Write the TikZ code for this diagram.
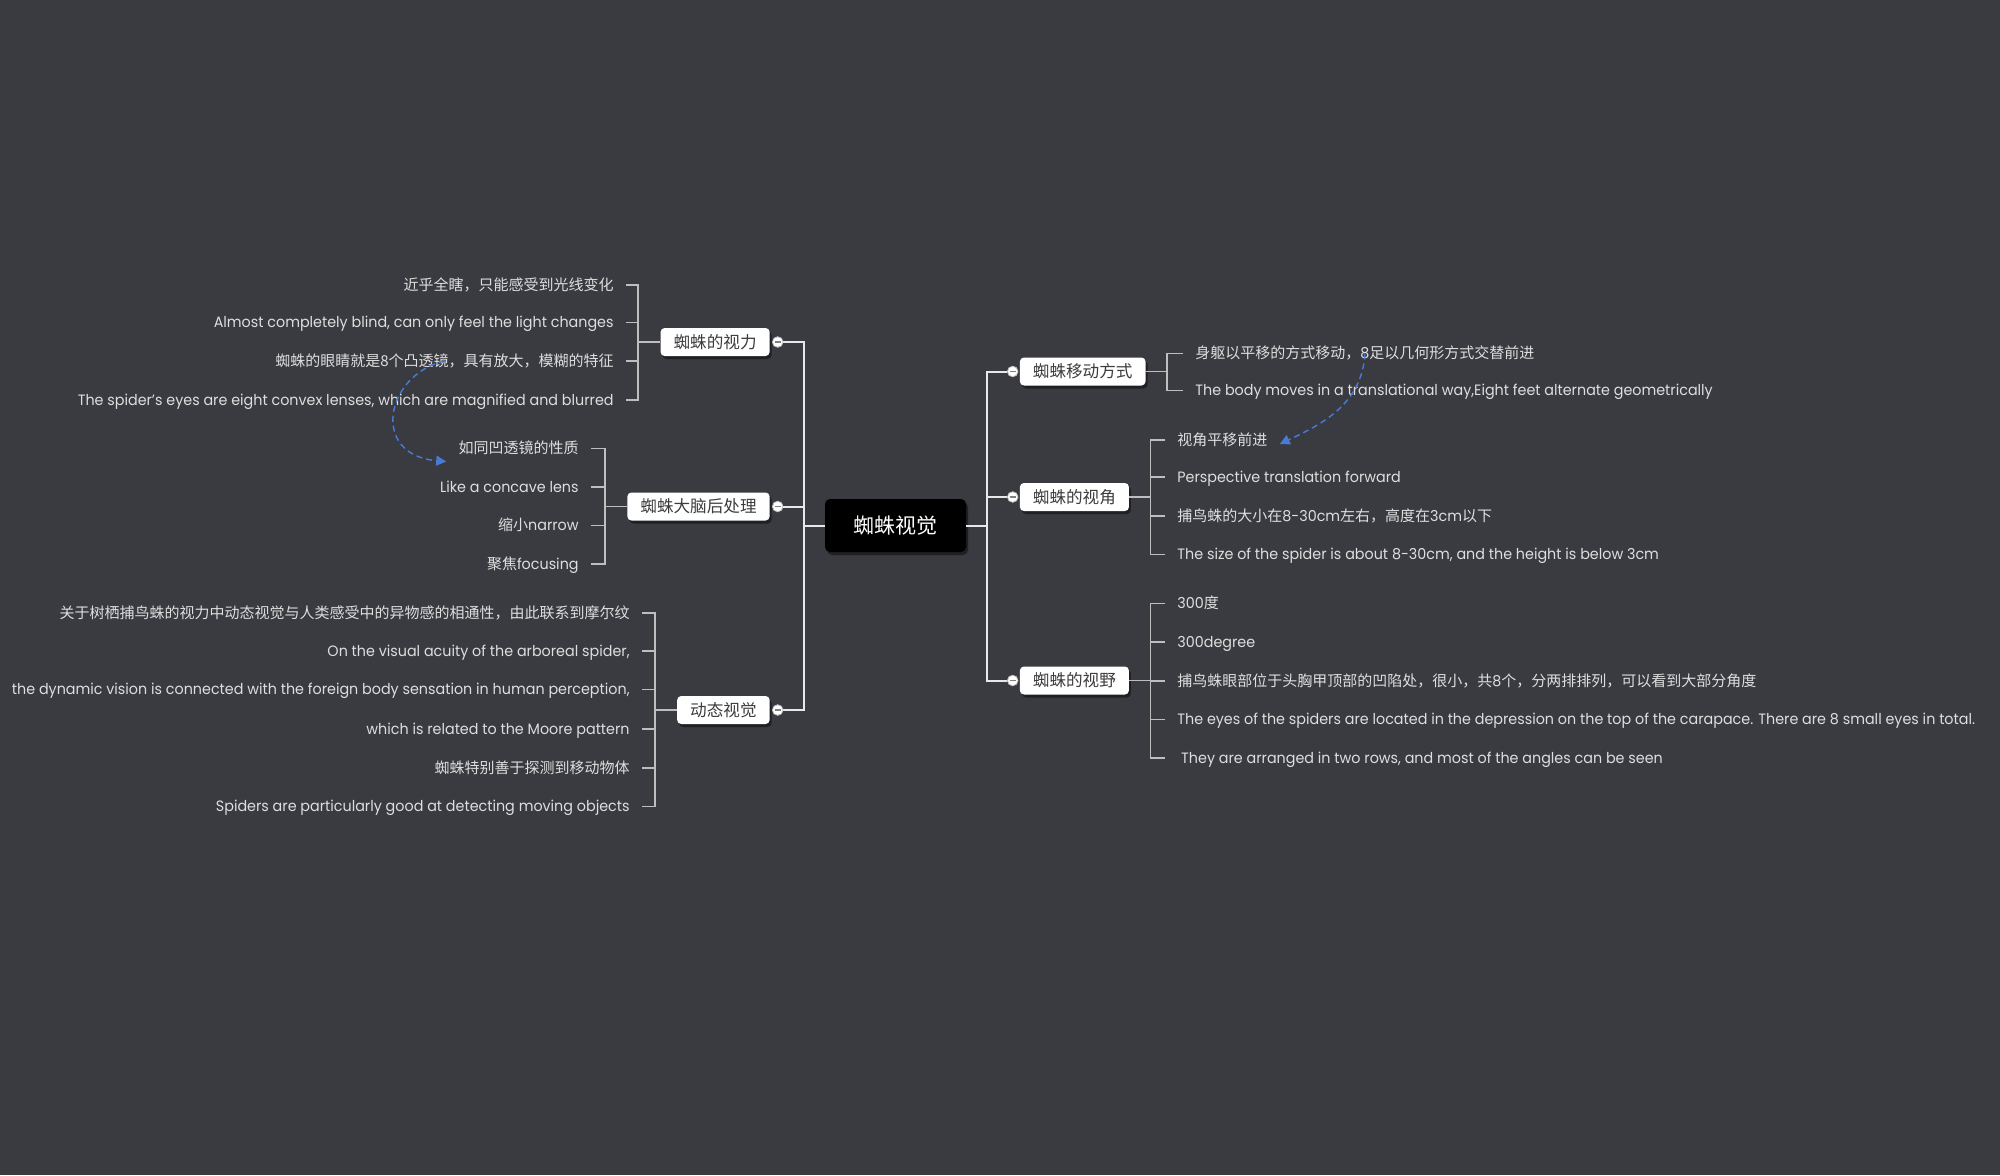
\documentclass[tikz,border=0pt]{standalone}
\usepackage{fontspec}
\setmainfont[FakeStretch=0.955]{Poppins}
\newfontfamily\cjk{Noto Sans CJK SC}
\usetikzlibrary{shadows,arrows.meta,calc}
\definecolor{bgc}{RGB}{58,59,65}
\definecolor{txt}{RGB}{222,222,222}
\definecolor{lnc}{RGB}{232,232,232}
\definecolor{brk}{RGB}{190,190,190}
\definecolor{arrc}{RGB}{72,122,214}
\definecolor{dark}{RGB}{60,60,62}
\tikzset{
  leafbase/.style={text=txt, font=\fontsize{7.5}{9}\selectfont, inner xsep=6pt, inner ysep=1pt, text height=6pt, text depth=0.8pt},
  leafL/.style={leafbase, anchor=east},
  leafR/.style={leafbase, anchor=west},
  branch/.style={fill=white, rounded corners=2pt, text=dark, font=\cjk\fontsize{8.3}{10}\selectfont, inner xsep=6.5pt, inner ysep=0pt, minimum height=14pt,
    drop shadow={shadow xshift=1pt, shadow yshift=-1.5pt, opacity=0.45, fill=black}},
  rootbox/.style={fill=black, rounded corners=2.5pt, text=white, font=\cjk\fontsize{10.5}{12}\selectfont, minimum width=70.5pt, minimum height=26.5pt, inner sep=0pt,
    drop shadow={shadow xshift=1pt, shadow yshift=-1.5pt, opacity=0.45, fill=black}},
  collapse/.style={circle, fill=white, draw=brk, line width=0.4pt, minimum size=5.3pt, inner sep=0pt,
    path picture={\draw[gray, line width=0.6pt] ([xshift=-1.6pt]path picture bounding box.center) -- ([xshift=1.6pt]path picture bounding box.center);}},
  trunk/.style={draw=lnc, line width=1pt},
  bracket/.style={draw=brk, line width=0.8pt},
  darr/.style={draw=arrc, line width=0.7pt, dash pattern=on 3pt off 2pt, -{Triangle[length=5pt,width=5pt]}},
}
\begin{document}
\begin{tikzpicture}[x=0.5pt,y=-0.5pt]
\useasboundingbox (0,0) rectangle (2000,1175);
\fill[bgc] (0,0) rectangle (2000,1175);
\clip (0,0) rectangle (2000,1175);

% root
\node[rootbox] (root) at (895.5,525.5) {蜘蛛视觉};

% left branches
\node[branch, anchor=east] (b1) at (770,342) {蜘蛛的视力};
\node[branch, anchor=east] (b2) at (770,506.5) {蜘蛛大脑后处理};
\node[branch, anchor=east] (b3) at (770,710) {动态视觉};
\node[collapse] (cL1) at (777.7,342) {};
\node[collapse] (cL2) at (777.7,506.5) {};
\node[collapse] (cL3) at (777.7,710) {};

% right branches
\node[branch, anchor=west] (b4) at (1019.5,371.5) {蜘蛛移动方式};
\node[branch, anchor=west] (b5) at (1019.5,497) {蜘蛛的视角};
\node[branch, anchor=west] (b6) at (1019.5,680.5) {蜘蛛的视野};
\node[collapse] (cR1) at (1012.7,371.5) {};
\node[collapse] (cR2) at (1012.7,497) {};
\node[collapse] (cR3) at (1012.7,680.5) {};

% trunk connectors
\foreach \c in {cR1,cR2,cR3} \draw[trunk] (root.east) -- ++(21,0) |- (\c.west);
\foreach \c in {cL1,cL2,cL3} \draw[trunk] (root.west) -- ++(-21,0) |- (\c.east);

% leaves of b1
\node[leafL] (l11) at (626,285) {\cjk 近乎全瞎，只能感受到光线变化};
\node[leafL] (l12) at (626,322.5) {Almost completely blind, can only feel the light changes};
\node[leafL] (l13) at (626,361) {\cjk 蜘蛛的眼睛就是8个凸透镜，具有放大，模糊的特征};
\node[leafL] (l14) at (626,400) {The spider's eyes are eight convex lenses, which are magnified and blurred};
% leaves of b2
\node[leafL] (l21) at (591,448.5) {\cjk 如同凹透镜的性质};
\node[leafL] (l22) at (591,487) {Like a concave lens};
\node[leafL] (l23) at (591,525.5) {{\cjk 缩小}narrow};
\node[leafL] (l24) at (591,564) {{\cjk 聚焦}focusing};
% leaves of b3
\node[leafL] (l31) at (642,613) {\cjk 关于树栖捕鸟蛛的视力中动态视觉与人类感受中的异物感的相通性，由此联系到摩尔纹};
\node[leafL] (l32) at (642,651) {On the visual acuity of the arboreal spider,\ };
\node[leafL] (l33) at (642,689.5) {the dynamic vision is connected with the foreign body sensation in human perception,\ };
\node[leafL] (l34) at (642,729) {which is related to the Moore pattern};
\node[leafL] (l35) at (642,768) {\cjk 蜘蛛特别善于探测到移动物体};
\node[leafL] (l36) at (642,806.5) {Spiders are particularly good at detecting moving objects};
% leaves of b4
\node[leafR] (l41) at (1183,353.5) {{\cjk 身躯以平移的方式移动，}8{\cjk 足以几何形方式交替前进}};
\node[leafR] (l42) at (1183,390.5) {The body moves in a translational way,Eight feet alternate geometrically};
% leaves of b5
\node[leafR] (l51) at (1165,440) {\cjk 视角平移前进};
\node[leafR] (l52) at (1165,477) {Perspective translation forward};
\node[leafR] (l53) at (1165,516) {{\cjk 捕鸟蛛的大小在}8-30cm{\cjk 左右，高度在}3cm{\cjk 以下}};
\node[leafR] (l54) at (1165,554.5) {The size of the spider is about 8-30cm, and the height is below 3cm};
% leaves of b6
\node[leafR] (l61) at (1165,603.5) {300{\cjk 度}};
\node[leafR] (l62) at (1165,642) {300degree};
\node[leafR] (l63) at (1165,681) {{\cjk 捕鸟蛛眼部位于头胸甲顶部的凹陷处，很小，共}8{\cjk 个，分两排排列，可以看到大部分角度}};
\node[leafR] (l64) at (1165,719.5) {The eyes of the spiders are located in the depression on the top of the carapace. There are 8 small eyes in total.};
\node[leafR] (l65) at (1165,758) {\ They are arranged in two rows, and most of the angles can be seen};

% brackets
\foreach \l in {l11,l12,l13,l14} \draw[bracket] (b1.west) -- ++(-22,0) |- (\l.east);
\foreach \l in {l21,l22,l23,l24} \draw[bracket] (b2.west) -- ++(-22,0) |- (\l.east);
\foreach \l in {l31,l32,l33,l34,l35,l36} \draw[bracket] (b3.west) -- ++(-22,0) |- (\l.east);
\foreach \l in {l41,l42} \draw[bracket] (b4.east) -- ++(21,0) |- (\l.west);
\foreach \l in {l51,l52,l53,l54} \draw[bracket] (b5.east) -- ++(21,0) |- (\l.west);
\foreach \l in {l61,l62,l63,l64,l65} \draw[bracket] (b6.east) -- ++(21,0) |- (\l.west);

% dashed relation arrows
\draw[darr] (l13.center) .. controls (385,375) and (370,455) .. ([yshift=-6.5pt]l21.west);
\draw[darr] (l41.center) .. controls (1362,405) and (1320,425) .. ([yshift=-2pt]l51.east);
\end{tikzpicture}
\end{document}
